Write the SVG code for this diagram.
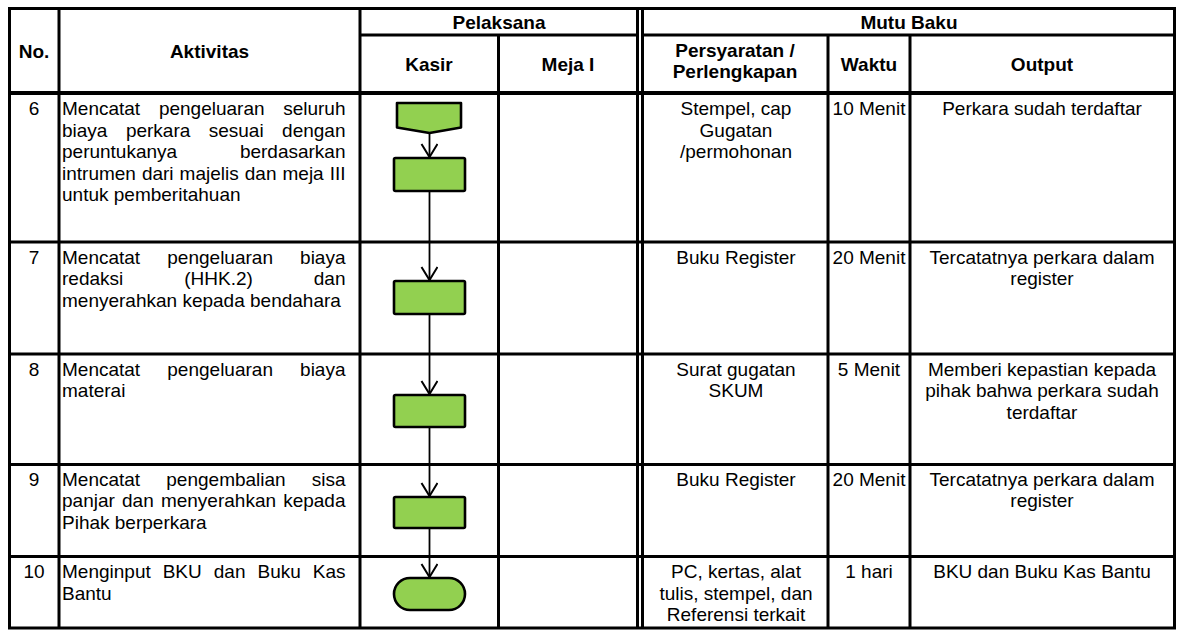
<svg xmlns="http://www.w3.org/2000/svg" width="1177" height="630" viewBox="0 0 1177 630">
<style>
text{font-family:"Liberation Sans",Arial,sans-serif;font-size:19px;fill:#000}
.b{font-weight:bold}
.c{text-anchor:middle}
.e{text-anchor:end}
.grid{stroke:#000;stroke-width:3;fill:none}
.shape{fill:#92D050;stroke:#000;stroke-width:2.6;stroke-linejoin:round}
.conn{stroke:#000;stroke-width:1.8;fill:none}
</style>
<defs>
<marker id="arr" markerWidth="20" markerHeight="20" refX="14" refY="8" orient="auto" markerUnits="userSpaceOnUse" viewBox="0 0 20 20">
<path d="M1,0 L14,8 L1,16" fill="none" stroke="#000" stroke-width="2"/>
</marker>
</defs>
<rect width="1177" height="630" fill="#fff"/>

<g id="header">
<text class="b c" x="34" y="58">No.</text>
<text class="b c" x="209.5" y="58">Aktivitas</text>
<text class="b c" x="499" y="28.5">Pelaksana</text>
<text class="b c" x="429" y="71">Kasir</text>
<text class="b c" x="568" y="71">Meja I</text>
<text class="b c" x="909" y="28.5">Mutu Baku</text>
<text class="b c" x="735" y="56.5">Persyaratan /</text>
<text class="b c" x="735" y="77.5">Perlengkapan</text>
<text class="b c" x="869" y="71">Waktu</text>
<text class="b c" x="1042" y="71">Output</text>
</g>

<g id="row6">
<text class="c" x="34" y="115">6</text>
<text x="62" y="115">Mencatat</text><text x="158.9" y="115">pengeluaran</text><text class="e" x="345.5" y="115">seluruh</text>
<text x="62" y="136.5">biaya</text><text x="125.9" y="136.5">perkara</text><text x="208.7" y="136.5">sesuai</text><text class="e" x="345.5" y="136.5">dengan</text>
<text x="62" y="158">peruntukanya</text><text class="e" x="345.5" y="158">berdasarkan</text>
<text x="62" y="179.5">intrumen</text><text x="141.9" y="179.5">dari</text><text x="179.6" y="179.5">majelis</text><text x="244.8" y="179.5">dan</text><text x="282.5" y="179.5">meja</text><text class="e" x="345.5" y="179.5">III</text>
<text x="62" y="201">untuk pemberitahuan</text>
<text class="c" x="736" y="115">Stempel, cap</text>
<text class="c" x="736" y="136.5">Gugatan</text>
<text class="c" x="736" y="158">/permohonan</text>
<text class="c" x="869" y="115">10 Menit</text>
<text class="c" x="1042" y="115">Perkara sudah terdaftar</text>
</g>

<g id="row7">
<text class="c" x="34" y="263.5">7</text>
<text x="62" y="263.5">Mencatat</text><text x="167.3" y="263.5">pengeluaran</text><text class="e" x="345.5" y="263.5">biaya</text>
<text x="62" y="285">redaksi</text><text x="184.2" y="285">(HHK.2)</text><text class="e" x="345.5" y="285">dan</text>
<text x="62" y="306.5">menyerahkan kepada bendahara</text>
<text class="c" x="736" y="263.5">Buku Register</text>
<text class="c" x="869" y="263.5">20 Menit</text>
<text class="c" x="1042" y="263.5">Tercatatnya perkara dalam</text>
<text class="c" x="1042" y="285">register</text>
</g>

<g id="row8">
<text class="c" x="34" y="375.5">8</text>
<text x="62" y="375.5">Mencatat</text><text x="167.3" y="375.5">pengeluaran</text><text class="e" x="345.5" y="375.5">biaya</text>
<text x="62" y="397">materai</text>
<text class="c" x="736" y="375.5">Surat gugatan</text>
<text class="c" x="736" y="397">SKUM</text>
<text class="c" x="869" y="375.5">5 Menit</text>
<text class="c" x="1042" y="375.5">Memberi kepastian kepada</text>
<text class="c" x="1042" y="397">pihak bahwa perkara sudah</text>
<text class="c" x="1042" y="418.5">terdaftar</text>
</g>

<g id="row9">
<text class="c" x="34" y="485.5">9</text>
<text x="62" y="485.5">Mencatat</text><text x="166.3" y="485.5">pengembalian</text><text class="e" x="345.5" y="485.5">sisa</text>
<text x="62" y="507">panjar</text><text x="122" y="507">dan</text><text x="160.9" y="507">menyerahkan</text><text class="e" x="345.5" y="507">kepada</text>
<text x="62" y="528.5">Pihak berperkara</text>
<text class="c" x="736" y="485.5">Buku Register</text>
<text class="c" x="869" y="485.5">20 Menit</text>
<text class="c" x="1042" y="485.5">Tercatatnya perkara dalam</text>
<text class="c" x="1042" y="507">register</text>
</g>

<g id="row10">
<text class="c" x="34" y="578">10</text>
<text x="62" y="578">Menginput</text><text x="162.7" y="578">BKU</text><text x="213.8" y="578">dan</text><text x="257.5" y="578">Buku</text><text class="e" x="345.5" y="578">Kas</text>
<text x="62" y="599.5">Bantu</text>
<text class="c" x="736" y="578">PC, kertas, alat</text>
<text class="c" x="736" y="599.5">tulis, stempel, dan</text>
<text class="c" x="736" y="621">Referensi terkait</text>
<text class="c" x="869" y="578">1 hari</text>
<text class="c" x="1042" y="578">BKU dan Buku Kas Bantu</text>
</g>

<g id="grid">
<path class="grid" d="M8,8.5 H1176 M9.5,8.5 V628 M59,8.5 V628 M360,8.5 V628 M498.5,35 V628 M637.5,8.5 V628 M642.5,8.5 V628 M828,35 V628 M910,35 V628 M1174.5,8.5 V628"/>
<path class="grid" d="M360,35 H637.5 M642.5,35 H1174.5"/>
<path class="grid" style="stroke-width:4" d="M8,93 H1176"/>
<path class="grid" d="M8,242 H1176 M8,354 H1176 M8,464.5 H1176 M8,556.5 H1176 M8,628 H1176"/>
</g>

<g id="connectors">
<path class="conn" marker-end="url(#arr)" d="M429.5,133 V157"/>
<path class="conn" marker-end="url(#arr)" d="M429.5,191 V280"/>
<path class="conn" marker-end="url(#arr)" d="M429.5,314 V394"/>
<path class="conn" marker-end="url(#arr)" d="M429.5,427 V496"/>
<path class="conn" marker-end="url(#arr)" d="M429.5,528 V577"/>
</g>

<g id="n6a"><path class="shape" d="M397,103 H461 V127.5 L429.5,133 L397,127.5 Z"/></g>
<g id="n6b"><rect class="shape" x="394" y="158" width="71" height="33" rx="1.5"/></g>
<g id="n7"><rect class="shape" x="394" y="281" width="71" height="33" rx="1.5"/></g>
<g id="n8"><rect class="shape" x="394" y="395" width="71" height="32" rx="1.5"/></g>
<g id="n9"><rect class="shape" x="394" y="497" width="71" height="31" rx="1.5"/></g>
<g id="n10"><rect class="shape" x="394" y="578" width="71" height="32" rx="16"/></g>
</svg>
